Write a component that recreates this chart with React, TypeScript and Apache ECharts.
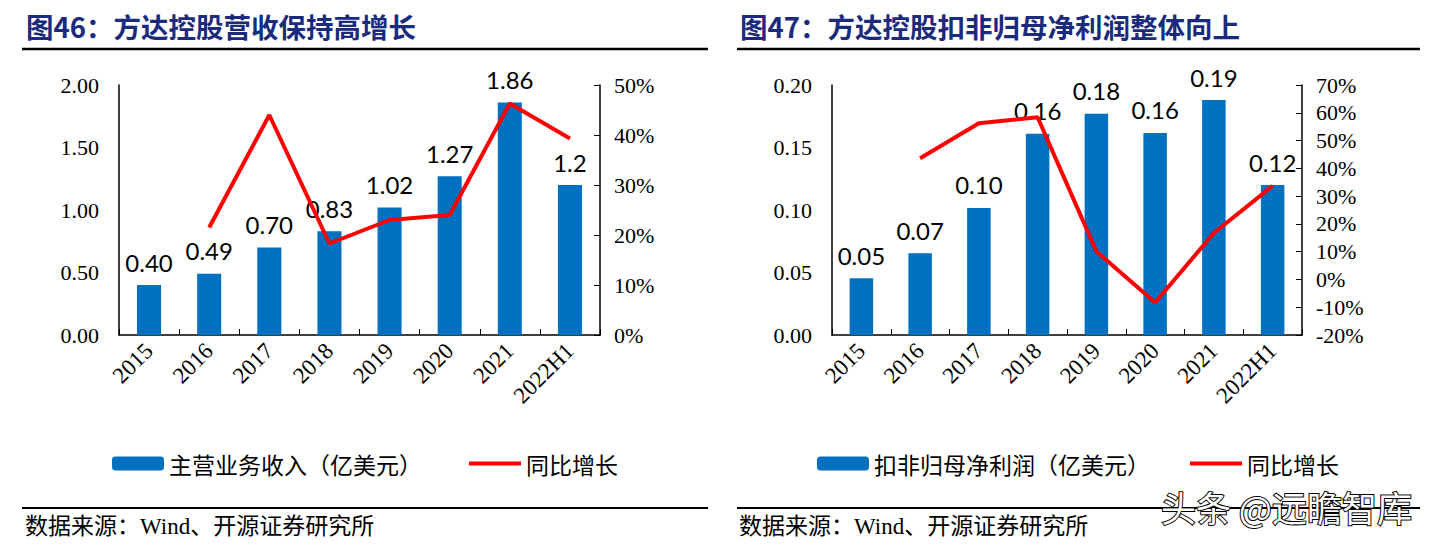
import React, { useEffect, useRef } from "react";
import * as echarts from "echarts";

const categories = ["2015", "2016", "2017", "2018", "2019", "2020", "2021", "2022H1"];
const revenue = [0.40, 0.49, 0.70, 0.83, 1.02, 1.27, 1.86, 1.20];
const revenueLabels = ["0.40", "0.49", "0.70", "0.83", "1.02", "1.27", "1.86", "1.2"];
const revenueGrowth = [null, 21.5, 44.0, 18.3, 23.0, 24.0, 46.3, 39.3];
const profit = [0.0455, 0.0655, 0.1017, 0.161, 0.177, 0.1617, 0.188, 0.120];
const profitLabels = ["0.05", "0.07", "0.10", "0.16", "0.18", "0.16", "0.19", "0.12"];
const profitGrowth = [null, 43.6, 56.2, 58.4, 10.1, -8.3, 16.7, 33.7];

const BLUE = "#0070C0";
const RED = "#FF0000";
const SERIF = '"Liberation Serif", "Times New Roman", serif';
const CJK = '"Noto Sans CJK SC", sans-serif';
const MIX = '"Liberation Serif", "Noto Sans CJK SC", serif';
const LINE_ICON = "path://M0,0 L52,0 L52,4 L0,4 Z";

export default function App() {
  const ref = useRef<HTMLDivElement>(null);
  useEffect(() => {
    if (!ref.current) return;
    const chart = echarts.init(ref.current, null, { renderer: "svg" });
    const xAxisBase = (gridIndex: number) => ({
      type: "category",
      gridIndex,
      data: categories,
      axisLine: { lineStyle: { color: "#000", width: 1.5 } },
      axisTick: { show: true, inside: true, length: 6, lineStyle: { color: "#000" } },
      axisLabel: { rotate: 45, fontFamily: SERIF, fontSize: 23, color: "#000", margin: 12 },
    });
    const leftY = (gridIndex: number, max: number, interval: number) => ({
      type: "value",
      gridIndex,
      min: 0,
      max,
      interval,
      position: "left",
      splitLine: { show: false },
      axisLine: { show: true, lineStyle: { color: "#000", width: 1.5 } },
      axisTick: { show: false },
      axisLabel: { fontFamily: SERIF, fontSize: 22, color: "#000", margin: 20, formatter: (v: number) => v.toFixed(2) },
    });
    const rightY = (gridIndex: number, min: number, max: number) => ({
      type: "value",
      gridIndex,
      min,
      max,
      interval: 10,
      position: "right",
      splitLine: { show: false },
      axisLine: { show: true, lineStyle: { color: "#000", width: 1.5 } },
      axisTick: { show: true, inside: true, length: 6, lineStyle: { color: "#000" } },
      axisLabel: { fontFamily: SERIF, fontSize: 22, color: "#000", margin: 14, formatter: "{value}%" },
    });
    const barLabel = (labels: string[]) => ({
      show: true,
      position: "top",
      distance: 11,
      fontFamily: '"Lato", "Liberation Sans", sans-serif',
      fontSize: 24,
      color: "#000",
      formatter: (p: any) => labels[p.dataIndex],
    });
    const legendText = { fontFamily: CJK, fontSize: 23, color: "#000" };
    const option: any = {
      animation: false,
      backgroundColor: "#fff",
      grid: [
        { left: 119, top: 85, width: 481, height: 250 },
        { left: 832, top: 85, width: 470, height: 250 },
      ],
      xAxis: [xAxisBase(0), xAxisBase(1)],
      yAxis: [leftY(0, 2, 0.5), rightY(0, 0, 50), leftY(1, 0.2, 0.05), rightY(1, -20, 70)],
      legend: [
        {
          data: ["主营业务收入（亿美元）", { name: "同比增长", icon: LINE_ICON }],
          left: 107,
          top: 447,
          itemWidth: 52,
          itemHeight: 14,
          itemGap: 47,
          symbolKeepAspect: true,
          textStyle: legendText,
        },
        {
          data: ["扣非归母净利润（亿美元）", { name: "同比增长 ", icon: LINE_ICON }],
          left: 812,
          top: 447,
          itemWidth: 52,
          itemHeight: 14,
          itemGap: 40,
          symbolKeepAspect: true,
          textStyle: legendText,
        },
      ],
      series: [
        {
          name: "主营业务收入（亿美元）",
          type: "bar",
          xAxisIndex: 0,
          yAxisIndex: 0,
          data: revenue,
          barWidth: "40%",
          itemStyle: { color: BLUE },
          label: barLabel(revenueLabels),
          z: 2,
        },
        {
          name: "同比增长",
          type: "line",
          xAxisIndex: 0,
          yAxisIndex: 1,
          data: revenueGrowth,
          symbol: "none",
          lineStyle: { color: RED, width: 4 },
          itemStyle: { color: RED },
          z: 3,
        },
        {
          name: "扣非归母净利润（亿美元）",
          type: "bar",
          xAxisIndex: 1,
          yAxisIndex: 2,
          data: profit,
          barWidth: "40%",
          itemStyle: { color: BLUE },
          label: barLabel(profitLabels),
          z: 2,
        },
        {
          name: "同比增长 ",
          type: "line",
          xAxisIndex: 1,
          yAxisIndex: 3,
          data: profitGrowth,
          symbol: "none",
          lineStyle: { color: RED, width: 4 },
          itemStyle: { color: RED },
          z: 3,
        },
      ],
      graphic: [
        {
          type: "text",
          left: 26,
          top: 12,
          style: { text: "图46：方达控股营收保持高增长", font: `bold 27.5px ${CJK}`, fill: "#1a2a7c" },
        },
        {
          type: "text",
          left: 740,
          top: 12,
          style: { text: "图47：方达控股扣非归母净利润整体向上", font: `bold 27.5px ${CJK}`, fill: "#1a2a7c" },
        },
        { type: "line", shape: { x1: 22, y1: 49, x2: 708, y2: 49 }, style: { stroke: "#000", lineWidth: 2.5 } },
        { type: "line", shape: { x1: 737, y1: 49, x2: 1420, y2: 49 }, style: { stroke: "#000", lineWidth: 2.5 } },
        { type: "line", shape: { x1: 22, y1: 508, x2: 708, y2: 508 }, style: { stroke: "#000", lineWidth: 2 } },
        { type: "line", shape: { x1: 737, y1: 508, x2: 1420, y2: 508 }, style: { stroke: "#000", lineWidth: 2 } },
        {
          type: "text",
          left: 25,
          top: 515,
          style: { text: "数据来源：Wind、开源证券研究所", font: `23px ${MIX}`, fill: "#000" },
        },
        {
          type: "text",
          left: 739,
          top: 515,
          style: { text: "数据来源：Wind、开源证券研究所", font: `23px ${MIX}`, fill: "#000" },
        },
        {
          type: "text",
          left: 1160,
          top: 488,
          z: 100,
          style: {
            text: "头条 @远瞻智库",
            font: `35px ${CJK}`,
            fill: "#ffffff",
            stroke: "#000",
            lineWidth: 2,
          },
        },
      ],
    };
    chart.setOption(option);
    return () => chart.dispose();
  }, []);
  return (
    <div
      ref={ref}
      style={{ position: "absolute", left: 0, top: 0, width: 1446, height: 549, background: "#fff" }}
    />
  );
}
